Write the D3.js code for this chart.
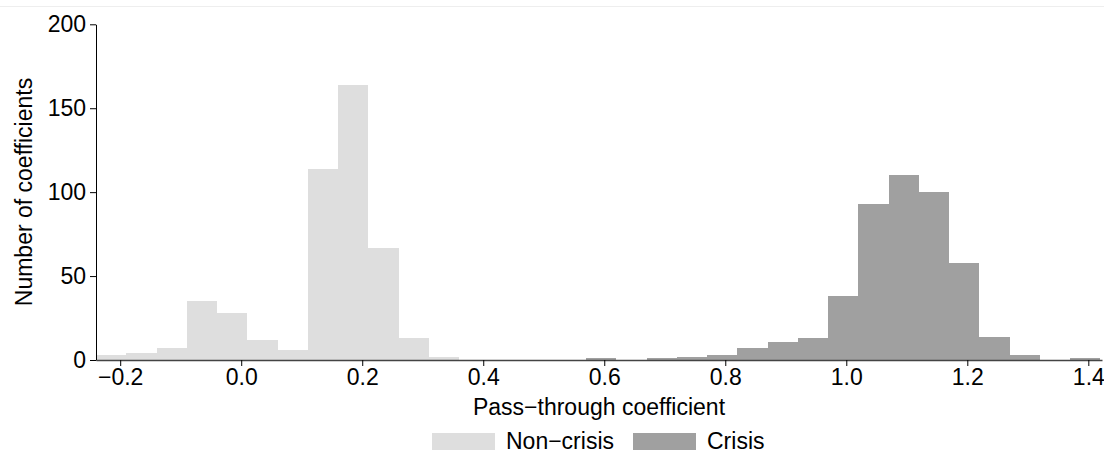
<!DOCTYPE html>
<html>
<head>
<meta charset="utf-8">
<script src="https://cdn.jsdelivr.net/npm/d3@7"></script>
<style>
  html, body { margin: 0; padding: 0; background: #fff; }
  svg { display: block; }
  text { font-family: "Liberation Sans", Arial, Helvetica, sans-serif; fill: #000; }
</style>
</head>
<body>
<svg id="chart" width="1104" height="455"></svg>
<script>
// ---- data ----
const binWidth = 0.05;
const nonCrisisBinStarts = [-0.24, -0.19, -0.14, -0.09, -0.04, 0.01, 0.06, 0.11, 0.16, 0.21, 0.26, 0.31];
const nonCrisisCounts    = [3, 4, 7, 35, 28, 12, 6, 114, 164, 67, 13, 2];
const crisisBinStarts = [0.57, 0.62, 0.67, 0.72, 0.77, 0.82, 0.87, 0.92, 0.97, 1.02, 1.07, 1.12, 1.17, 1.22, 1.27, 1.32, 1.37];
const crisisCounts    = [1, 0, 1, 2, 3, 7, 11, 13, 38, 93, 110, 100, 58, 14, 3, 0, 1];
const xTicks = [-0.2, 0.0, 0.2, 0.4, 0.6, 0.8, 1.0, 1.2, 1.4];
const yTicks = [0, 50, 100, 150, 200];
const seriesNames = ["Non\u2212crisis", "Crisis"];
const seriesColors = ["#dedede", "#a0a0a0"];

// ---- drawing ----
const svg = d3.select("#chart");
const FS = 23;

// faint top border line
svg.append("line").attr("x1", 0).attr("x2", 1104).attr("y1", 6.5).attr("y2", 6.5)
  .attr("stroke", "#eeeeee").attr("stroke-width", 1);

const x = d3.scaleLinear().domain([-0.24, 1.4226]).range([96, 1102]);
const y = d3.scaleLinear().domain([0, 200]).range([360, 24.3]);

function drawSeries(starts, counts, color) {
  svg.append("g").selectAll("rect")
    .data(starts.map((s, i) => ({ s, c: counts[i] })).filter(d => d.c > 0))
    .join("rect")
    .attr("x", d => x(d.s))
    .attr("width", d => x(d.s + binWidth) - x(d.s))
    .attr("y", d => y(d.c))
    .attr("height", d => y(0) - y(d.c))
    .attr("fill", color)
    .attr("shape-rendering", "crispEdges");
}
drawSeries(nonCrisisBinStarts, nonCrisisCounts, seriesColors[0]);
drawSeries(crisisBinStarts, crisisCounts, seriesColors[1]);

// x axis
const gx = svg.append("g").attr("transform", "translate(0,360)")
  .call(d3.axisBottom(x).tickValues(xTicks).tickFormat(d3.format(".1f"))
    .tickSize(6).tickSizeOuter(0).tickPadding(3));
gx.select(".domain").attr("stroke", "#444").attr("stroke-width", 1.3);
gx.selectAll(".tick line").attr("stroke", "#000");
gx.selectAll(".tick text").attr("font-size", FS).attr("font-family", null);

// y axis
const gy = svg.append("g").attr("transform", "translate(96,0)")
  .call(d3.axisLeft(y).tickValues(yTicks).tickSize(6).tickSizeOuter(0).tickPadding(4));
gy.select(".domain").attr("stroke", "#000").attr("stroke-width", 1);
gy.selectAll(".tick line").attr("stroke", "#000");
gy.selectAll(".tick text").attr("font-size", FS).attr("font-family", null);

// axis titles
svg.append("text").attr("x", 599).attr("y", 415).attr("text-anchor", "middle")
  .attr("font-size", FS).text("Pass\u2212through coefficient");
svg.append("text").attr("transform", "translate(32,192) rotate(-90)")
  .attr("text-anchor", "middle").attr("font-size", FS).text("Number of coefficients");

// legend
const legendX = [432, 633];
seriesNames.forEach((name, i) => {
  svg.append("rect").attr("x", legendX[i]).attr("y", 433).attr("width", 63).attr("height", 17)
    .attr("fill", seriesColors[i]);
  svg.append("text").attr("x", legendX[i] + 74).attr("y", 449)
    .attr("font-size", FS).text(name);
});
</script>
</body>
</html>
